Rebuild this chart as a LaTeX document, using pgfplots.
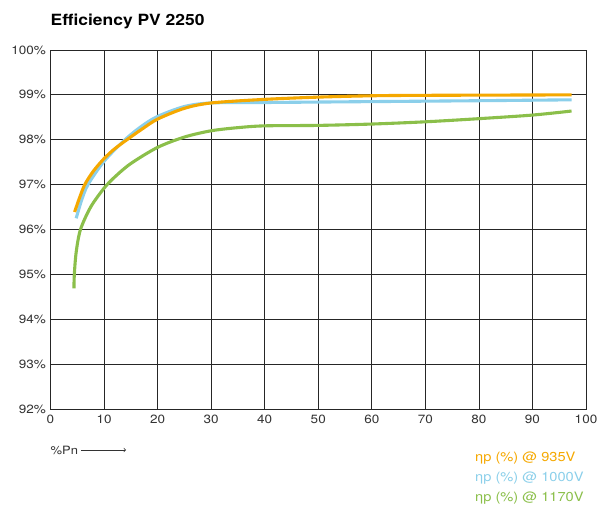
\documentclass[border=0pt]{standalone}
\usepackage{pgfplots}
\pgfplotsset{compat=1.18}
\usepackage{fontspec}
\setmainfont{TeX Gyre Heros}[FakeStretch=1.13]
\definecolor{corange}{HTML}{F5A800}
\definecolor{cblue}{HTML}{8BCFEA}
\definecolor{cgreen}{HTML}{8BBF4A}
\begin{document}
\begin{tikzpicture}
\path[use as bounding box] (-50.5bp,-102bp) rectangle (560.5bp,409bp);
\begin{axis}[
  at={(0,0)}, anchor=south west,
  scale only axis, width=535.5bp, height=359bp,
  xmin=0, xmax=100, ymin=92, ymax=100,
  xtick={0,10,...,100}, ytick={92,93,...,100},
  yticklabel={\pgfmathprintnumber{\tick}\%},
  /pgf/number format/assume math mode=true,
  grid=major,
  major grid style={black!85, line width=0.8bp},
  axis line style={black!85, line width=0.8bp},
  tick style={draw=none},
  ticklabel style={font=\fontsize{12}{14}\selectfont, text=black!80},
  xticklabel style={yshift=-3bp},
  yticklabel style={xshift=-1bp},
  clip=false,
]
\addplot[cgreen, line width=3.1bp, smooth] coordinates {
(4.38,94.69) (4.45,95.0) (4.8,95.5) (5.6,96.0) (7.5,96.5) (10,96.92) (12,97.17) (15,97.47) (20,97.83) (25,98.06) (30,98.2) (35,98.27) (40,98.31) (50,98.32) (60,98.35) (70,98.4) (80,98.47) (90,98.55) (97.3,98.64)};
\addplot[cblue, line width=3.1bp, smooth] coordinates {
(4.8,96.25) (5.8,96.65) (7.0,97.0) (10,97.52) (13.9,98.0) (17,98.3) (20,98.52) (25,98.74) (30,98.82) (40,98.83) (60,98.85) (80,98.87) (97.3,98.89)};
\addplot[corange, line width=3.1bp, smooth] coordinates {
(4.5,96.39) (5.4,96.7) (6.4,97.0) (8,97.3) (10,97.58) (12,97.8) (14.5,98.02) (17,98.23) (20,98.46) (25,98.7) (30,98.82) (40,98.9) (50,98.95) (60,98.98) (70,98.99) (97.3,99.0)};
\end{axis}
\node[anchor=base west, font=\fontsize{15.5}{17}\selectfont\bfseries, inner sep=0pt] at (0bp,383bp) {Efficiency PV 2250};
\node[anchor=base west, font=\fontsize{11.5}{13}\selectfont, text=black!80, inner sep=0pt] at (0bp,-45bp) {\%Pn};
\draw[black!80, line width=0.7bp, ->] (30.5bp,-41bp) -- (75.5bp,-41bp);
\node[anchor=base west, font=\fontsize{13}{15}\selectfont, text=corange, inner sep=0pt] at (424.5bp,-52.7bp) {ηp (\%) @ 935V};
\node[anchor=base west, font=\fontsize{13}{15}\selectfont, text=cblue, inner sep=0pt] at (424.5bp,-72bp) {ηp (\%) @ 1000V};
\node[anchor=base west, font=\fontsize{13}{15}\selectfont, text=cgreen, inner sep=0pt] at (424.5bp,-92bp) {ηp (\%) @ 1170V};
\end{tikzpicture}
\end{document}
